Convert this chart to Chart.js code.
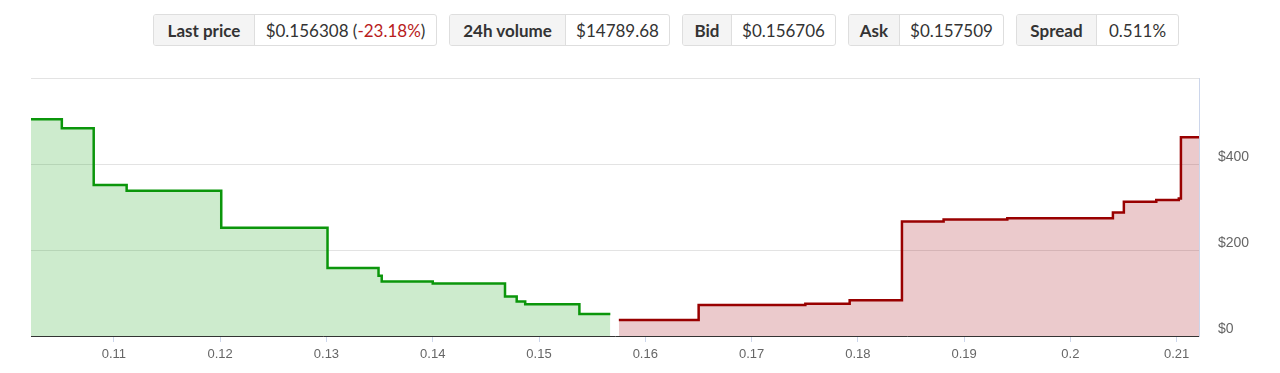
<!DOCTYPE html>
<html>
<head>
<meta charset="utf-8">
<script src="https://cdn.jsdelivr.net/npm/chart.js@4/dist/chart.umd.min.js"></script>
<style>
  body { margin: 0; background: #fff; width: 1280px; height: 373px; overflow: hidden; position: relative; }
  .stats { position: absolute; left: 153px; top: 14px; display: flex; gap: 12px; font-family: Lato, "Open Sans", sans-serif; font-size: 17px; color: #333; }
  .box { display: flex; height: 32px; box-sizing: border-box; border: 1px solid #dedede; border-radius: 3px; overflow: hidden; }
  .box span { display: flex; align-items: center; justify-content: center; box-sizing: border-box; }
  .box .lbl { background: #f4f4f4; font-weight: bold; border-right: 1px solid #dedede; }
  .neg { color: #b81c1c; }
  #wrap { position: absolute; left: 0; top: 60px; width: 1280px; height: 313px; }
</style>
</head>
<body>
<div class="stats">
  <div class="box" style="width:284px"><span class="lbl" style="width:101px">Last price</span><span style="flex:1">$0.156308&nbsp;(<span class="neg">-23.18%</span>)</span></div>
  <div class="box" style="width:221px"><span class="lbl" style="width:116px">24h volume</span><span style="flex:1">$14789.68</span></div>
  <div class="box" style="width:154px"><span class="lbl" style="width:49px">Bid</span><span style="flex:1">$0.156706</span></div>
  <div class="box" style="width:156px"><span class="lbl" style="width:51px">Ask</span><span style="flex:1">$0.157509</span></div>
  <div class="box" style="width:163px"><span class="lbl" style="width:80px">Spread</span><span style="flex:1">0.511%</span></div>
</div>
<div id="wrap"><canvas id="depth"></canvas></div>
<script>
// bid side: price level and cumulative depth to its right
var bidPrices = [0.1000, 0.1051, 0.1081, 0.1112, 0.1201, 0.1301, 0.1349, 0.1352, 0.1400, 0.1468, 0.1479, 0.1487, 0.1538, 0.15671];
var bidDepth  = [504, 483, 351, 338, 252, 158, 140, 127, 122, 92, 80, 74, 51, 51];

// ask side
var askPrices = [0.15751, 0.16502, 0.17506, 0.17923, 0.18415, 0.18807, 0.19406, 0.2040, 0.20503, 0.20808, 0.2102, 0.2104, 0.2150];
var askDepth  = [37, 72, 75, 83, 266, 271, 274, 287, 312, 316, 320, 462, 462];

var xMin = 0.1022, xMax = 0.2121;
var yTicks = [0, 200, 400, 600];

function toPoints(xs, ys) {
    var pts = [];
    for (var i = 0; i < xs.length; i++) {
        pts.push({x: xs[i], y: ys[i]});
    }
    return pts;
}

var fontFamily = '"Liberation Sans", Arial, sans-serif';

new Chart(document.getElementById('depth'), {
    type: 'line',
    data: {
        datasets: [{
            data: toPoints(bidPrices, bidDepth),
            borderColor: '#0b960b',
            backgroundColor: 'rgba(20,160,20,0.21)',
            borderWidth: 2.5,
            stepped: 'before',
            fill: 'origin',
            pointRadius: 0
        }, {
            data: toPoints(askPrices, askDepth),
            borderColor: '#990000',
            backgroundColor: 'rgba(165,15,25,0.22)',
            borderWidth: 2.5,
            stepped: 'before',
            fill: 'origin',
            pointRadius: 0
        }]
    },
    options: {
        responsive: true,
        maintainAspectRatio: false,
        animation: false,
        layout: {padding: {left: 31, top: 18, right: 0, bottom: 0}},
        plugins: {legend: {display: false}, tooltip: {enabled: false}},
        scales: {
            x: {
                type: 'linear',
                min: xMin,
                max: xMax,
                afterFit: function(scale) {
                    scale.height = 37;
                    scale.paddingLeft = 0;
                    scale.paddingRight = 0;
                },
                grid: {drawOnChartArea: false, drawTicks: true, tickLength: 6, color: '#ccd6eb'},
                border: {display: true, color: '#333', width: 1},
                ticks: {
                    stepSize: 0.01,
                    includeBounds: false,
                    padding: 5,
                    maxRotation: 0,
                    color: '#666',
                    font: {family: fontFamily, size: 13},
                    callback: function(v) { return String(Number(v.toFixed(2))); }
                }
            },
            y: {
                position: 'right',
                min: yTicks[0],
                max: yTicks[yTicks.length - 1],
                afterFit: function(scale) {
                    scale.width = 81;
                    scale.paddingTop = 0;
                    scale.paddingBottom = 0;
                },
                grid: {color: '#e3e3e3', drawTicks: false},
                border: {display: true, color: '#ccd6eb', width: 1},
                ticks: {
                    stepSize: 200,
                    padding: 19,
                    labelOffset: -7,
                    color: '#666',
                    font: {family: fontFamily, size: 14},
                    callback: function(v) { return v === yTicks[yTicks.length - 1] ? '' : '$' + v; }
                }
            }
        }
    }
});
</script>
</body>
</html>
